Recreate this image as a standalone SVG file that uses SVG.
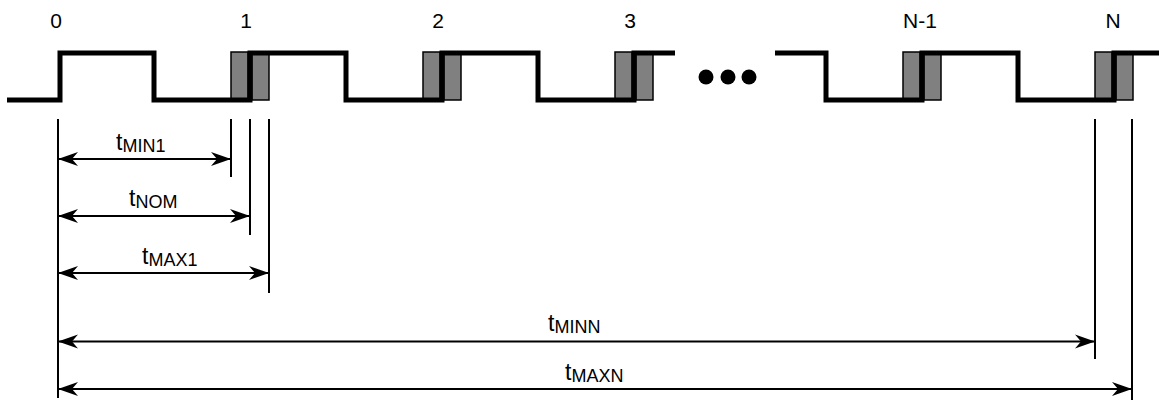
<svg xmlns="http://www.w3.org/2000/svg" width="1159" height="402" viewBox="0 0 1159 402">
<style>
.lbl{font-family:"Liberation Sans",Arial,sans-serif;font-size:21px;fill:#000;text-anchor:middle}
.t{font-family:"Liberation Sans",Arial,sans-serif;font-size:23px;fill:#000}
.sub{font-size:18px}
.box{fill:#808080;stroke:#000;stroke-width:1.5}
.sig{fill:none;stroke:#000;stroke-width:5;stroke-linejoin:miter;stroke-linecap:butt}
.tick{stroke:#000;stroke-width:2}
.dim{stroke:#000;stroke-width:2;marker-start:url(#ah);marker-end:url(#ah)}
</style>
<defs>
<marker id="ah" markerUnits="userSpaceOnUse" viewBox="-21 -8 22 16" markerWidth="22" markerHeight="16" refX="0" refY="0" orient="auto-start-reverse">
<path d="M0,0 L-20,-7 L-14,0 L-20,7 Z" fill="#000"/>
</marker>
</defs>
<g id="labels">
<text class="lbl" x="56" y="28">0</text>
<text class="lbl" x="246" y="28">1</text>
<text class="lbl" x="438" y="28">2</text>
<text class="lbl" x="630" y="28">3</text>
<text class="lbl" x="920" y="28">N-1</text>
<text class="lbl" x="1113" y="28">N</text>
</g>
<g id="jitter-boxes">
<rect class="box" x="231" y="52" width="17" height="48"/><rect class="box" x="252" y="53" width="17" height="47"/>
<rect class="box" x="423" y="52" width="17" height="48"/><rect class="box" x="444" y="53" width="17" height="47"/>
<rect class="box" x="615" y="52" width="17" height="48"/><rect class="box" x="636" y="53" width="17" height="47"/>
<rect class="box" x="903" y="52" width="17" height="48"/><rect class="box" x="924" y="53" width="17" height="47"/>
<rect class="box" x="1095" y="52" width="17" height="48"/><rect class="box" x="1116" y="53" width="17" height="47"/>
</g>
<g id="signal">
<path class="sig" d="M7,100 H60 V53 H154 V100 H250 V53 H346 V100 H442 V53 H538 V100 H634 V53 H675"/>
<path class="sig" d="M775,53 H826 V100 H922 V53 H1018 V100 H1114 V53 H1159"/>
<circle cx="706" cy="77" r="7.5" fill="#000"/>
<circle cx="728" cy="77" r="7.5" fill="#000"/>
<circle cx="749" cy="77" r="7.5" fill="#000"/>
</g>
<g id="connectors">
<line class="tick" x1="58" y1="119" x2="58" y2="398"/>
<line class="tick" x1="231" y1="119" x2="231" y2="177"/>
<line class="tick" x1="250" y1="119" x2="250" y2="235"/>
<line class="tick" x1="269" y1="119" x2="269" y2="293"/>
<line class="tick" x1="1095" y1="119" x2="1095" y2="359"/>
<line class="tick" x1="1132" y1="119" x2="1132" y2="400"/>
<line class="dim" x1="58" y1="159" x2="231" y2="159"/>
<line class="dim" x1="58" y1="216" x2="250" y2="216"/>
<line class="dim" x1="58" y1="273" x2="269" y2="273"/>
<line class="dim" x1="58" y1="341.5" x2="1095" y2="341.5"/>
<line class="dim" x1="58" y1="389" x2="1132" y2="389"/>
</g>
<g id="dim-labels">
<text class="t" x="116" y="150">t<tspan class="sub" dy="2">MIN1</tspan></text>
<text class="t" x="129" y="206">t<tspan class="sub" dy="2">NOM</tspan></text>
<text class="t" x="142" y="264">t<tspan class="sub" dy="2">MAX1</tspan></text>
<text class="t" x="548" y="331">t<tspan class="sub" dy="2">MINN</tspan></text>
<text class="t" x="565" y="380">t<tspan class="sub" dy="2">MAXN</tspan></text>
</g>
</svg>
